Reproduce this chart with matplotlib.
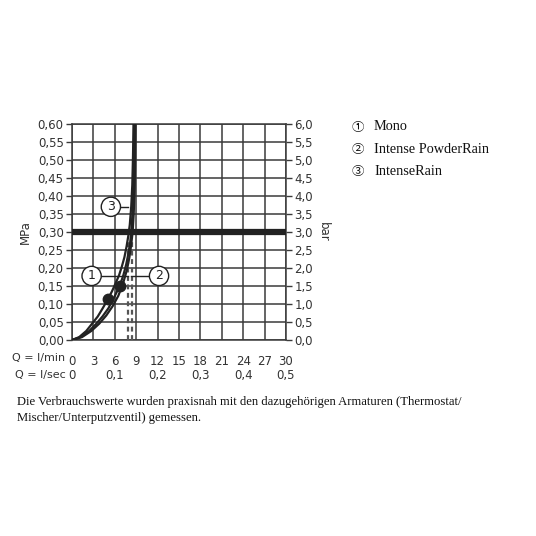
import numpy as np
import matplotlib.pyplot as plt

# Durchfluss (l/min) und Druck (MPa) je Kurve
q_mono = [0, 1.0, 2.0, 2.8, 3.6, 4.3, 5.05, 5.6, 6.1, 6.6, 7.0, 7.35, 7.65, 7.9, 8.1, 8.3, 8.45, 8.55, 8.62]
p_mono = [0, 0.008, 0.025, 0.045, 0.065, 0.088, 0.114, 0.135, 0.157, 0.18, 0.205, 0.23, 0.26, 0.29, 0.32, 0.37, 0.43, 0.51, 0.60]

q_powder = [0, 1.2, 2.4, 3.4, 4.3, 5.1, 5.9, 6.7, 7.2, 7.6, 7.9, 8.15, 8.35, 8.5, 8.62, 8.72, 8.78]
p_powder = [0, 0.008, 0.025, 0.045, 0.066, 0.088, 0.118, 0.151, 0.18, 0.21, 0.24, 0.27, 0.31, 0.36, 0.42, 0.50, 0.60]

q_intense = [0, 1.4, 2.7, 3.8, 4.8, 5.7, 6.5, 7.2, 7.7, 8.05, 8.3, 8.5, 8.65, 8.78, 8.85, 8.9]
p_intense = [0, 0.008, 0.025, 0.045, 0.068, 0.094, 0.123, 0.16, 0.195, 0.23, 0.265, 0.30, 0.35, 0.42, 0.50, 0.60]

dots_q = [5.05, 6.7]
dots_p = [0.114, 0.151]

dashed_q = [7.9, 8.35]
dashed_top = 0.28

xticks_min = [0, 3, 6, 9, 12, 15, 18, 21, 24, 27, 30]
lsec_labels = ['0', '0,1', '0,2', '0,3', '0,4', '0,5']
lsec_pos = [0, 6, 12, 18, 24, 30]
yticks = np.round(np.arange(0, 0.601, 0.05), 2)

legend_items = ['Mono', 'Intense PowderRain', 'IntenseRain']
footer = ('Die Verbrauchswerte wurden praxisnah mit den dazugehörigen Armaturen (Thermostat/\n'
          'Mischer/Unterputzventil) gemessen.')

tick_col = '#333333'
grid_col = '#3a3a3a'

fig = plt.figure(figsize=(5.36, 5.36), dpi=100)
ax = fig.add_axes([72 / 536, 1 - 340 / 536, 214 / 536, 216 / 536])

ax.set_xlim(0, 30)
ax.set_ylim(0, 0.6)
ax.set_xticks(xticks_min)
ax.set_yticks(yticks)
ax.grid(True, color=grid_col, linewidth=1.1)
ax.set_axisbelow(True)
for s in ax.spines.values():
    s.set_color(grid_col)
    s.set_linewidth(1.1)

ax.set_yticklabels([f'{v:.2f}'.replace('.', ',') for v in yticks], fontsize=8.5, color=tick_col)
ax.tick_params(axis='y', length=4, width=1, color=grid_col, pad=2)
ax.tick_params(axis='x', length=0, pad=11)
ax.set_xticklabels([str(v) for v in xticks_min], fontsize=8.5, color=tick_col)
ax.set_ylabel('MPa', fontsize=8.5, color=tick_col, labelpad=4)

ax2 = ax.twinx()
ax2.set_ylim(0, 6)
ax2.set_yticks(np.arange(0, 6.01, 0.5))
ax2.set_yticklabels([f'{v:.1f}'.replace('.', ',') for v in np.arange(0, 6.01, 0.5)], fontsize=8.5, color=tick_col)
ax2.tick_params(axis='y', length=4, width=1, color=grid_col, pad=2)
ax2.set_ylabel('bar', fontsize=8.5, color=tick_col, rotation=270, labelpad=12)
for s in ax2.spines.values():
    s.set_visible(False)

# Linie bei 0,3 MPa
ax.axhline(0.30, color='#222222', linewidth=4.5, zorder=3)

# gestrichelte Linien
for q in dashed_q:
    ax.plot([q, q], [0, dashed_top], color='#555555', linewidth=1.6,
            dashes=(2.2, 1.6), zorder=4)

for q, p in [(q_mono, p_mono), (q_powder, p_powder), (q_intense, p_intense)]:
    ax.plot(q, p, color='#222222', linewidth=1.6, zorder=5, solid_capstyle='round')
ax.plot(dots_q, dots_p, 'o', color='#222222', markersize=7.5, zorder=6)

# Nummern-Kreise
def marker(num, x, y, x_end):
    ax.plot([x, x_end], [y, y], color='#222222', linewidth=1, zorder=6)
    ax.text(x, y, str(num), ha='center', va='center', fontsize=9, color='#222222', zorder=8,
            bbox=dict(boxstyle='circle,pad=0.25', fc='white', ec='#222222', lw=1))

marker(3, 5.45, 0.37, 7.9)
marker(1, 2.75, 0.178, 7.9)
marker(2, 12.2, 0.178, 8.3)

# Beschriftungen der x-Achsen
ax.text(-0.03, -0.085, 'Q = l/min', transform=ax.transAxes, ha='right', va='center',
        fontsize=8, color=tick_col)
for pos, lab in zip(lsec_pos, lsec_labels):
    ax.text(pos, -0.163, lab, transform=ax.get_xaxis_transform(), ha='center', va='center',
            fontsize=8.5, color=tick_col)
ax.text(-0.03, -0.163, 'Q = l/sec', transform=ax.transAxes, ha='right', va='center',
        fontsize=8, color=tick_col)

# Legende
circled = ['\u2460', '\u2461', '\u2462']
for i, (c, name) in enumerate(zip(circled, legend_items)):
    y = 1 - (127 + i * 22.5) / 536
    fig.text(358 / 536, y, c, fontsize=9, family=['Noto Sans CJK JP', 'DejaVu Sans'],
             ha='center', va='center', color='#111111')
    fig.text(374 / 536, y, name, fontsize=10.3, family=['Liberation Serif'],
             ha='left', va='center', color='#111111')

fig.text(17 / 536, 1 - 410 / 536, footer, fontsize=9.1, family=['Liberation Serif'],
         ha='left', va='center', color='#111111', linespacing=1.5)

fig.savefig('out.png', dpi=100)
